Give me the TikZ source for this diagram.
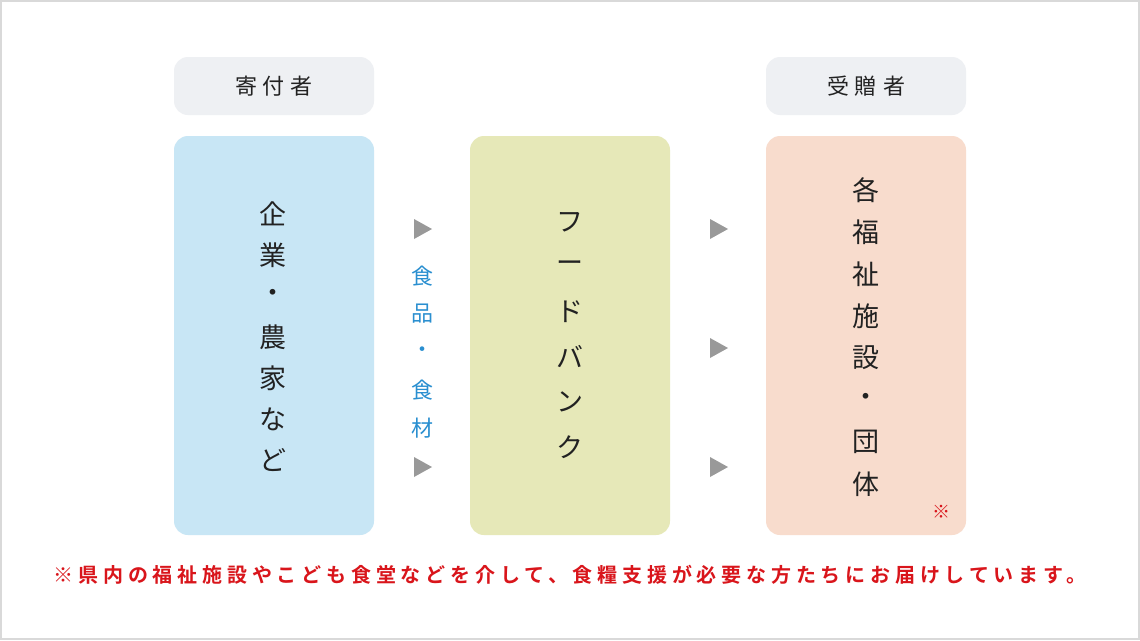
\documentclass[tikz,border=0pt]{standalone}
\usepackage{fontspec}
\newfontfamily\cjk{Noto Sans CJK JP}
\newfontfamily\cjkb[LetterSpace=24]{Noto Sans CJK JP Bold}
\definecolor{bluebox}{HTML}{C8E6F5}
\definecolor{greenbox}{HTML}{E6E8B8}
\definecolor{peachbox}{HTML}{F8DCCD}
\definecolor{headbox}{HTML}{EEF0F3}
\definecolor{txt}{HTML}{222222}
\definecolor{bluetxt}{HTML}{2A8FD0}
\definecolor{redtxt}{HTML}{D9151B}
\definecolor{arr}{HTML}{999999}
\begin{document}
\begin{tikzpicture}[x=1pt,y=-1pt,
  panel/.style={rounded corners=14pt},
  vch/.style={font=\cjk\fontsize{27}{27}\selectfont,text=txt,inner sep=0},
  head/.style={font=\cjk\fontsize{22}{22}\selectfont,text=txt,inner sep=0},
  tri/.style={fill=arr,draw=none}]
\useasboundingbox (0,0) rectangle (1140,640);
\draw[draw=black!15,line width=1.5pt,fill=white] (1,1) rectangle (1139,639);
\fill[headbox,panel] (174,57) rectangle (374,115);
\fill[headbox,panel] (766,57) rectangle (966,115);
\node[head] (h1) at (274,86) {寄\hspace{6pt}付\hspace{6pt}者};
\node[head] (h2) at (866,86) {受\hspace{6pt}贈\hspace{6pt}者};
\fill[bluebox,panel] (174,136) rectangle (374,535);
\fill[greenbox,panel] (470,136) rectangle (670,535);
\fill[peachbox,panel] (766,136) rectangle (966,535);
\foreach \c [count=\i] in {企,業,・,農,家,な,ど}
  \node[vch] (l\i) at (273,{173+41*\i}) {\c};
\foreach \c [count=\i] in {フ,ー,ド,バ,ン,ク}
  \node[vch] (m\i) at (570,{177+45*\i}) {\c};
\foreach \c [count=\i] in {各,福,祉,施,設,・,団,体}
  \node[vch] (r\i) at (866,{148+42*\i}) {\c};
\foreach \c [count=\i] in {食,品,・,食,材}
  \node[font=\cjk\fontsize{22}{22}\selectfont,text=bluetxt,inner sep=0] (b\i) at (422,{238+38*\i}) {\c};
\foreach \yy in {229,467} \fill[tri] (414,\yy-10) -- (432,\yy) -- (414,\yy+10) -- cycle;
\foreach \yy in {229,348,467} \fill[tri] (710,\yy-10) -- (728,\yy) -- (710,\yy+10) -- cycle;
\node[font=\cjk\fontsize{18}{18}\selectfont,text=redtxt,inner sep=0] (star) at (941,512) {※};
\node[font=\cjkb\fontsize{20}{20}\selectfont,text=redtxt,inner sep=0] (note) at (570,575) {※県内の福祉施設やこども食堂などを介して、食糧支援が必要な方たちにお届けしています。};
\end{tikzpicture}
\end{document}
